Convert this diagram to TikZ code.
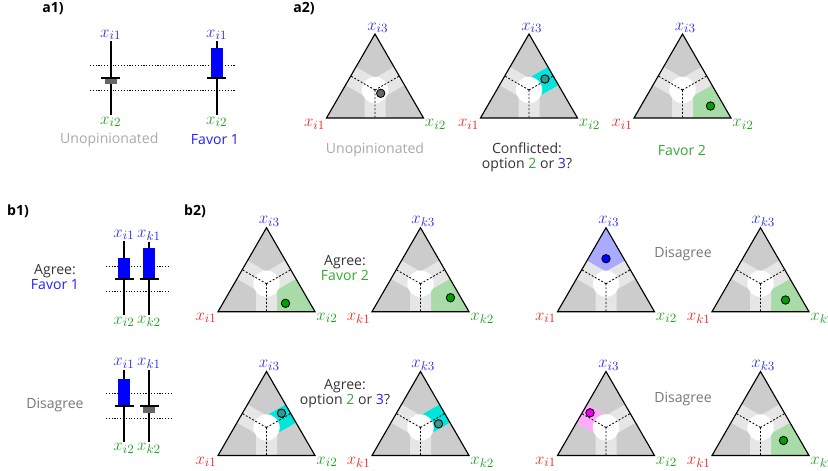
\documentclass[tikz,border=0pt]{standalone}
\usepackage{fontspec}
\setmainfont{Open Sans}
\usetikzlibrary{positioning}
\usepackage{xcolor}

\definecolor{xblue}{HTML}{3030F0}
\definecolor{xgreen}{HTML}{22A022}
\definecolor{xred}{HTML}{F02828}
\definecolor{boxblue}{HTML}{0000FF}
\definecolor{boxgray}{HTML}{666666}
\definecolor{tgray}{HTML}{CCCCCC}
\definecolor{tband}{HTML}{E6E6E6}
\definecolor{rgreen}{HTML}{A8DBA8}
\definecolor{rcyan}{HTML}{00E6DC}
\definecolor{rblue}{HTML}{AAAAFF}
\definecolor{rpink}{HTML}{FFAAFF}
\definecolor{dgray}{HTML}{666666}
\definecolor{dteal}{HTML}{33998F}
\definecolor{dgreen}{HTML}{00A000}
\definecolor{dblue}{HTML}{0000FF}
\definecolor{dmag}{HTML}{EE00EE}
\definecolor{txtlight}{HTML}{AAAAAA}
\definecolor{txtgray}{HTML}{777777}
\definecolor{txtdark}{HTML}{333333}
\definecolor{ftgreen}{HTML}{33AA33}
\definecolor{ftblue}{HTML}{2020FF}

% candlestick: name, x, top label y, bottom label y, index, tick y, box end y, box colour
\newcommand{\optbar}[8]{%
  \node[vlabel,text=xblue] (#1top) at (#2,#3) {$x_{#51}$};
  \node[vlabel,text=xgreen] (#1bot) at (#2,#4) {$x_{#52}$};
  \draw[stick] (#1top.south) -- (#1bot.north);
  \fill[#8] (#2-6,#6) rectangle (#2+6,#7);
  \draw[stick] (#2-9.5,#6) -- (#2+9.5,#6);
}

% simplex: name, x, base y, index, corner fill, band fill, dot position, dot colour
\newcommand{\ternary}[8]{%
  \begin{scope}[shift={(#2,#3)}]
    \coordinate (v1) at (-48.5,0);
    \coordinate (v2) at (48.5,0);
    \coordinate (v3) at (0,-84);
    \coordinate (g) at (0,-28);
    \coordinate (m12) at (0,0);
    \coordinate (m23) at (24.25,-42);
    \coordinate (m13) at (-24.25,-42);
    \fill[tgray] (v1) -- (v2) -- (v3) -- cycle;
    #5
    \draw[band] (g) -- (m12) (g) -- (m23) (g) -- (m13);
    #6
    \fill[white] (g) circle[radius=0.33cm];
    \draw[divider] (g) -- (m12) (g) -- (m23) (g) -- (m13);
    \draw[edge] (v1) -- (v2) -- (v3) -- cycle;
    \node[dot,fill=#8] (#1dot) at #7 {};
    \node[vlabel,text=xred,anchor=north east] (#1l1) at (v1) {$x_{#41}$};
    \node[vlabel,text=xgreen,anchor=north west] (#1l2) at (v2) {$x_{#42}$};
    \node[vlabel,text=xblue,anchor=south,xshift=2pt] (#1l3) at (v3) {$x_{#43}$};
  \end{scope}}

\begin{document}
\begin{tikzpicture}[
    x=0.025cm,y=-0.025cm,
    vlabel/.style={font=\fontsize{12.5}{13}\selectfont,inner sep=0.8pt},
    caption/.style={font=\fontsize{10}{10.5}\selectfont,align=center,inner sep=1pt},
    panel/.style={font=\bfseries,inner sep=1pt},
    stick/.style={line width=1.4pt},
    guide/.style={line width=0.75pt,dash pattern=on 0.8pt off 1.2pt},
    band/.style={draw=tband,line width=0.525cm},
    divider/.style={line width=0.6pt,dash pattern=on 1.3pt off 1.3pt},
    edge/.style={line width=0.8pt},
    dot/.style={circle,draw,line width=0.6pt,minimum size=0.21cm,inner sep=0pt}
  ]
  \useasboundingbox (0,0) rectangle (828,470);

  % Panel labels
  \node[panel] (pa1) at (53,9) {a1)};
  \node[panel] (pa2) at (304,9) {a2)};
  \node[panel] (pb1) at (18,211) {b1)};
  \node[panel] (pb2) at (195,211) {b2)};

  % a1: single voter
  \draw[guide] (90,65.7) -- (236,65.7);
  \draw[guide] (90,90.7) -- (236,90.7);
  \optbar{au}{110.7}{35}{121.7}{i}{78.3}{84.3}{boxgray}
  \optbar{af}{216.7}{35}{121.7}{i}{78.3}{48.3}{boxblue}
  \node[caption,text=txtlight] (cau) at (109.3,140) {Unopinionated};
  \node[caption,text=ftblue] (caf) at (215,140) {Favor 1};

  % a2: three options
  \ternary{ta}{375}{118}{i}{}{}{(5.7,-24.7)}{dgray}
  \ternary{tb}{529}{118}{i}{}{\draw[band,draw=rcyan] (g) -- (m23);}{(16,-39)}{dteal}
  \ternary{tc}{682.5}{118}{i}{\fill[rgreen] (v2) -- (m23) -- (g) -- (m12) -- cycle;}{}{(28,-12)}{dgreen}
  \node[caption,text=txtlight] (cta) at (375,150) {Unopinionated};
  \node[caption,text=txtdark] (ctb) at (527,157) {Conflicted:\\option {\color{ftgreen}2} or {\color{ftblue}3}?};
  \node[caption,text=ftgreen] (ctc) at (682,150) {Favor 2};

  % b1: two voters, two options
  \draw[guide] (106,266.7) -- (168.3,266.7);
  \draw[guide] (106,291.7) -- (168.3,291.7);
  \optbar{bi}{124}{235}{321.7}{i}{279}{258.3}{boxblue}
  \optbar{bk}{149}{235}{321.7}{k}{279}{248.3}{boxblue}
  \node[caption,text=txtdark] (cb1) at (55,277) {Agree:\\{\color{ftblue}Favor 1}};

  \draw[guide] (106,393.3) -- (171,393.3);
  \draw[guide] (106,418.3) -- (171,418.3);
  \optbar{ci}{124}{363.3}{448.3}{i}{406}{379}{boxblue}
  \optbar{ck}{149}{363.3}{448.3}{k}{406}{413.3}{boxgray}
  \node[caption,text=txtgray] (cb2) at (55,405) {Disagree};

  % b2: two voters, three options
  \ternary{pi}{266.5}{311.7}{i}{\fill[rgreen] (v2) -- (m23) -- (g) -- (m12) -- cycle;}{}{(19,-8.4)}{dgreen}
  \ternary{pk}{420.5}{311.7}{k}{\fill[rgreen] (v2) -- (m23) -- (g) -- (m12) -- cycle;}{}{(30,-14)}{dgreen}
  \node[caption,text=txtdark] (cp1) at (345,268) {Agree:\\{\color{ftgreen}Favor 2}};
  \ternary{qi}{606}{311.7}{i}{\fill[rblue] (v3) -- (m13) -- (g) -- (m23) -- cycle;}{}{(0,-53)}{dblue}
  \ternary{qk}{760.5}{311.7}{k}{\fill[rgreen] (v2) -- (m23) -- (g) -- (m12) -- cycle;}{}{(25,-11.7)}{dgreen}
  \node[caption,text=txtgray] (cq1) at (683,254) {Disagree};

  \ternary{ri}{266.5}{455.5}{i}{}{\draw[band,draw=rcyan] (g) -- (m23);}{(15,-42.3)}{dteal}
  \ternary{rk}{420.5}{455.5}{k}{}{\draw[band,draw=rcyan] (g) -- (m23);}{(18,-31.7)}{dteal}
  \node[caption,text=txtdark] (cr1) at (345,394) {Agree:\\option {\color{ftgreen}2} or {\color{ftblue}3}?};
  \ternary{si}{606}{455.5}{i}{}{\draw[band,draw=rpink] (g) -- (m13);}{(-16,-42.7)}{dmag}
  \ternary{sk}{760.5}{455.5}{k}{\fill[rgreen] (v2) -- (m23) -- (g) -- (m12) -- cycle;}{}{(23,-15)}{dgreen}
  \node[caption,text=txtgray] (cs1) at (683,399) {Disagree};
\end{tikzpicture}
\end{document}
